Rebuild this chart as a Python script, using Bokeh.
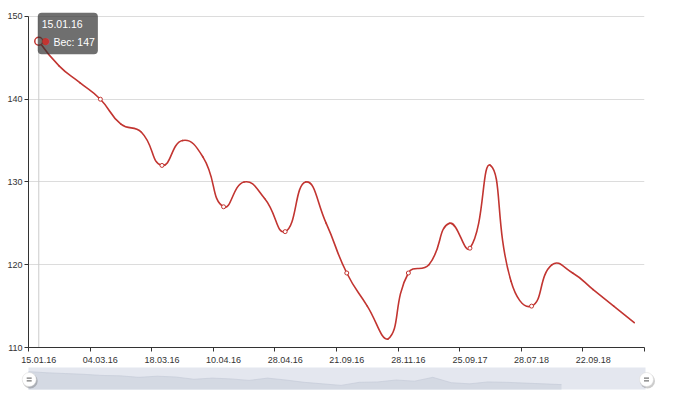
import numpy as np
from bokeh.plotting import figure
from bokeh.models import Range1d, FixedTicker, Label
from bokeh.embed import file_html
from bokeh.resources import INLINE

# ---------------- data ----------------
series_name = "Вес"
tick_labels = ["15.01.16", "04.03.16", "18.03.16", "10.04.16", "28.04.16",
               "21.09.16", "28.11.16", "25.09.17", "28.07.18", "22.09.18"]
label_every = 3
weights = [147, 144, 142, 140, 137, 136, 132, 135, 133, 127,
           130, 128, 124, 130, 125, 119, 115, 111, 119, 120,
           125, 122, 132, 118, 115, 120, 119, 117, 115, 113]
y_ticks = [110, 120, 130, 140, 150]

# ---------------- style / layout ----------------
RED = "#c23531"
FONT = "Liberation Sans"
W, H_MAIN, H_SLIDER = 680, 365, 29
FL, FR, FT, FB = 28, 644, 16, 349  # plot area edges (px)
TOP_PAD = 12                       # extra frame room above the 150 line
NB = "\u00a0"

n = len(weights)
idx = np.arange(n)

PX = (FR - FL) / n
PY = (FB - FT) / (y_ticks[-1] - y_ticks[0])

p = figure(width=W, height=H_MAIN, x_range=Range1d(-0.5, n - 0.5),
           y_range=Range1d(y_ticks[0], y_ticks[-1] + TOP_PAD / PY),
           output_backend="svg", toolbar_location=None,
           min_border_left=FL, min_border_right=W - FR,
           min_border_top=FT - TOP_PAD, min_border_bottom=H_MAIN - FB)
p.outline_line_color = None
p.xgrid.visible = False
p.ygrid.grid_line_color = "#dcdcdc"
p.ygrid.ticker = FixedTicker(ticks=y_ticks)

# x axis: labels at band centers, tick marks at band boundaries
major = list(range(0, n, label_every))
minor = [m - 0.5 for m in major] + [n - 0.5]
p.xaxis.ticker = FixedTicker(ticks=major, minor_ticks=minor)
p.xaxis.major_label_overrides = {m: tick_labels[k] for k, m in enumerate(major)}
p.xaxis.major_tick_line_color = None
p.xaxis.major_tick_out = 0
p.xaxis.minor_tick_line_color = "#333333"
p.xaxis.minor_tick_out = 4
p.xaxis.minor_tick_in = 0
p.xaxis.major_label_standoff = 5

p.yaxis.ticker = FixedTicker(ticks=y_ticks)
p.yaxis.bounds = (y_ticks[0], y_ticks[-1])
p.yaxis.major_tick_out = 4
p.yaxis.major_tick_in = 0
p.yaxis.minor_tick_line_color = None
p.yaxis.major_label_standoff = 2
p.yaxis.major_tick_line_color = "#333333"
for ax in (p.xaxis[0], p.yaxis[0]):
    ax.axis_line_color = "#333333"
    ax.major_label_text_font = FONT
    ax.major_label_text_font_size = "9px"
    ax.major_label_text_color = "#333333"

# axis pointer at the hovered (first) category
p.segment(x0=[idx[0]], y0=[y_ticks[0]], x1=[idx[0]], y1=[y_ticks[-1]],
          line_color="#cccccc", line_width=1)

# --- ECharts-like smooth line (bezier segments from the data) ---
P = np.column_stack([idx * PX, np.array(weights, float) * PY])
lo, hi = P.min(0), P.max(0)
smooth = 0.5
seg = {k: [] for k in ("x0", "y0", "x1", "y1", "cx0", "cy0", "cx1", "cy1")}
cp0 = P[0].copy()
for i in range(1, n):
    pt, prev = P[i], P[i - 1]
    v = None
    if i + 1 < n:
        nxt = P[i + 1]
        v = nxt - prev
        lp = np.linalg.norm(pt - prev)
        ln = np.linalg.norm(pt - nxt)
        r = ln / (ln + lp)
        cp1 = pt - v * smooth * (1 - r)
    else:
        cp1 = pt.copy()
    c0 = np.clip(cp0, lo, hi)
    c1 = np.clip(cp1, lo, hi)
    seg["x0"].append(prev[0] / PX); seg["y0"].append(prev[1] / PY)
    seg["x1"].append(pt[0] / PX); seg["y1"].append(pt[1] / PY)
    seg["cx0"].append(c0[0] / PX); seg["cy0"].append(c0[1] / PY)
    seg["cx1"].append(c1[0] / PX); seg["cy1"].append(c1[1] / PY)
    if v is not None:
        cp0 = pt + v * smooth * r

p.bezier(line_color=RED, line_width=1.6, line_cap="round", **seg)

shown = list(range(label_every, n - 5, label_every))
p.scatter([idx[i] for i in shown], [weights[i] for i in shown], size=4,
          fill_color="white", line_color=RED, line_width=1)
p.scatter([idx[0]], [weights[0]], size=8, fill_color="white",
          line_color=RED, line_width=1.5)

# tooltip
tip = Label(x=idx[0], y=weights[0], x_offset=-1, y_offset=28.5,
            text=f"{tick_labels[0]}\n{NB * 4}{series_name}: {weights[0]}",
            text_font=FONT, text_font_size="10.5px", text_color="white",
            text_align="left", text_baseline="top", text_line_height=1.55,
            background_fill_color="#323232", background_fill_alpha=0.7,
            border_radius=4, padding=(4, 3, 5, 6))
p.add_layout(tip)
dot = Label(x=idx[0], y=weights[0], x_offset=7, y_offset=1,
            text="●", text_font="DejaVu Sans", text_font_size="9.5px",
            text_color=RED, text_align="center", text_baseline="middle")
p.add_layout(dot)

# ---------------- dataZoom slider (separate root, full-width frame) ----------------
SX1, SHADOW_END = 645, 561               # px
SY0, SY1 = 367 - H_MAIN, 389 - H_MAIN    # px inside slider figure
step_px = (SHADOW_END - FL) / (n - 1)
wmin, wmax = min(weights), max(weights)
pad = (wmax - wmin) * 0.3
e0, e1 = wmin - pad, wmax + pad
upp = (e1 - e0) / (SY1 - SY0)
x_right = (SX1 - FL) / step_px
s = figure(width=W, height=H_SLIDER,
           x_range=Range1d(-FL / step_px, (W - FL) / step_px),
           y_range=Range1d(e0 - (H_SLIDER - SY1) * upp, e1 + SY0 * upp),
           output_backend="svg", toolbar_location=None, min_border=0)
s.axis.visible = False
s.grid.visible = False
s.outline_line_color = None
s.quad(left=[0], right=[x_right], bottom=[e0], top=[e1],
       fill_color="#e4e7ef", line_color=None)
s.varea(x=idx, y1=[e0] * n, y2=weights, fill_color="#d4d9e3")
s.line(idx, weights, line_color="#c5cbd8", line_width=0.7)

yc = e1 - (379 - H_MAIN - SY0) * upp
hx = [0.7 / step_px, x_right + 1 / step_px]
s.scatter([h + 1 / step_px for h in hx], [yc - 1.5 * upp] * 2, size=15,
          fill_color="#000000", fill_alpha=0.2, line_color=None)
s.scatter(hx, [yc] * 2, size=14, fill_color="white", line_color="#d6d6d6",
          line_width=0.5)
s.scatter(hx, [yc + 1.4 * upp] * 2, marker="dash", size=5,
          line_color="#555555", line_width=1)
s.scatter(hx, [yc - 1.4 * upp] * 2, marker="dash", size=5,
          line_color="#555555", line_width=1)

open("out.html", "w").write(file_html([p, s], INLINE))
